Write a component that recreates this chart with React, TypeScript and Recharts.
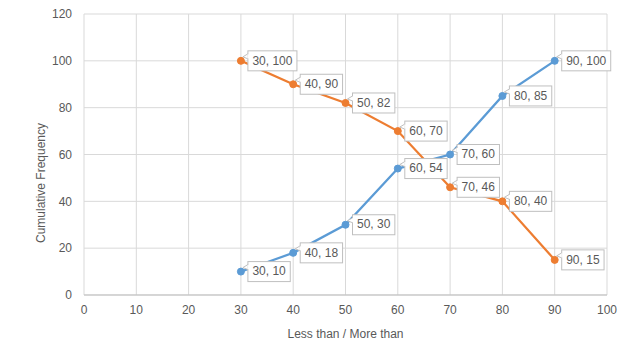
import React from "react";
import { LineChart, Line, XAxis, YAxis, CartesianGrid, LabelList, Label } from "recharts";

const xValues = [30, 40, 50, 60, 70, 80, 90];
const lessThan = [10, 18, 30, 54, 60, 85, 100];
const moreThan = [100, 90, 82, 70, 46, 40, 15];
const xTicks = [0, 10, 20, 30, 40, 50, 60, 70, 80, 90, 100];
const yTicks = [0, 20, 40, 60, 80, 100, 120];

const lessData = xValues.map((x, i) => ({ x, y: lessThan[i], label: `${x}, ${lessThan[i]}` }));
const moreData = xValues.map((x, i) => ({ x, y: moreThan[i], label: `${x}, ${moreThan[i]}` }));

const BLUE = "#5B9BD5";
const ORANGE = "#ED7D31";
const TEXT = "#595959";
const FONT = "'Liberation Sans', Arial, sans-serif";

function textWidth(s: string): number {
  let w = 0;
  for (const ch of s) {
    if (ch === "," || ch === " ") w += 3.34;
    else w += 6.67;
  }
  return w;
}

const Callout = (props: any) => {
  const { x, y, value } = props;
  if (x == null || y == null) return null;
  const s = String(value);
  const tw = textWidth(s);
  const bx = x + 7;
  const bh = 20;
  const by = y - bh / 2;
  const bw = tw + 9;
  return (
    <g>
      <path
        d={`M ${bx} ${by + 3} L ${x + 2} ${y - 4} L ${bx} ${by + 8}`}
        fill="#ffffff"
        stroke="#bfbfbf"
        strokeWidth={1}
      />
      <rect x={bx} y={by} width={bw} height={bh} fill="#ffffff" stroke="#bfbfbf" strokeWidth={1} />
      <rect x={bx - 0.5} y={by + 3.5} width={1.5} height={4} fill="#ffffff" />
      <text
        x={bx + bw / 2}
        y={y + 0.5}
        textAnchor="middle"
        dominantBaseline="middle"
        fontFamily={FONT}
        fontSize={12}
        fill={TEXT}
      >
        {s}
      </text>
    </g>
  );
};

export default function App() {
  return (
    <div style={{ position: "absolute", left: 0, top: 0, background: "#fff" }}>
      <LineChart width={635} height={351} margin={{ top: 14, right: 28, left: 0, bottom: 0 }}>
        <CartesianGrid stroke="#d9d9d9" strokeWidth={1} />
        <XAxis
          dataKey="x"
          type="number"
          domain={[0, 100]}
          ticks={xTicks}
          interval={0}
          allowDuplicatedCategory={false}
          tickLine={false}
          axisLine={{ stroke: "#bfbfbf", strokeWidth: 1 }}
          height={56}
          tickMargin={4}
          tick={{ fill: TEXT, fontSize: 12, fontFamily: FONT }}
        >
          <Label
            content={() => (
              <text x={345.5} y={338} textAnchor="middle" fontFamily={FONT} fontSize={12} fill={TEXT}>
                Less than / More than
              </text>
            )}
          />
        </XAxis>
        <YAxis
          type="number"
          domain={[0, 120]}
          ticks={yTicks}
          interval={0}
          tickLine={false}
          axisLine={false}
          width={84}
          tickMargin={6}
          tick={{ fill: TEXT, fontSize: 12, fontFamily: FONT }}
        >
          <Label
            content={() => (
              <text
                x={45}
                y={183}
                transform="rotate(-90 45 183)"
                textAnchor="middle"
                fontFamily={FONT}
                fontSize={12}
                fill={TEXT}
              >
                Cumulative Frequency
              </text>
            )}
          />
        </YAxis>
        <Line
          data={lessData}
          dataKey="y"
          stroke={BLUE}
          strokeWidth={2.25}
          dot={{ r: 3.5, fill: BLUE, stroke: BLUE, strokeWidth: 1 }}
          isAnimationActive={false}
        />
        <Line
          data={moreData}
          dataKey="y"
          stroke={ORANGE}
          strokeWidth={2.25}
          dot={{ r: 3.5, fill: ORANGE, stroke: ORANGE, strokeWidth: 1 }}
          isAnimationActive={false}
        />
        <Line data={lessData} dataKey="y" stroke="none" dot={false} activeDot={false} isAnimationActive={false}>
          <LabelList dataKey="label" content={Callout} />
        </Line>
        <Line data={moreData} dataKey="y" stroke="none" dot={false} activeDot={false} isAnimationActive={false}>
          <LabelList dataKey="label" content={Callout} />
        </Line>
      </LineChart>
    </div>
  );
}
